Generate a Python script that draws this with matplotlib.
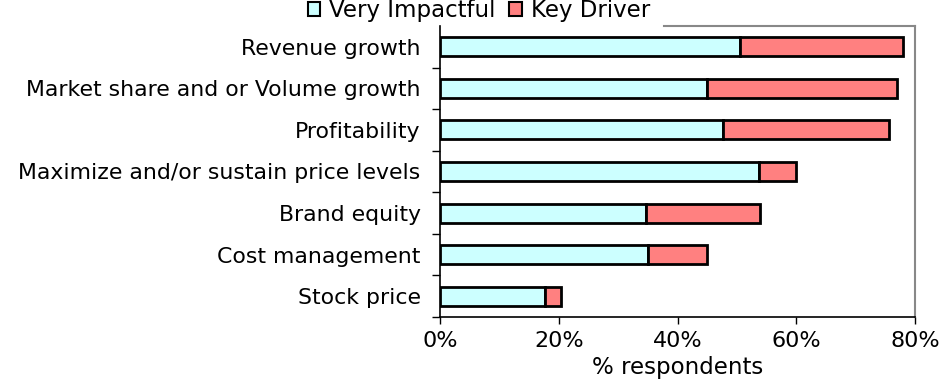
import matplotlib
matplotlib.use("Agg")
import matplotlib.pyplot as plt
import numpy as np
from matplotlib.patches import Patch

categories = ["Revenue growth", "Market share and or Volume growth", "Profitability",
              "Maximize and/or sustain price levels", "Brand equity", "Cost management",
              "Stock price"]
very_impactful = [50.5, 45.0, 47.7, 53.8, 34.7, 35.0, 17.7]
key_driver = [27.4, 31.9, 28.0, 6.1, 19.2, 10.0, 2.6]
xticks = [0, 20, 40, 60, 80]
xticklabels = ["0%", "20%", "40%", "60%", "80%"]

plt.rcParams['font.family'] = ['DejaVu Sans']

fig = plt.figure(figsize=(9.51, 3.82), dpi=100)
ax = fig.add_axes([440/951, 1-317/382, 475/951, 291/382])

n = len(categories)
y = np.arange(n)[::-1]
c1 = "#CCFFFF"
c2 = "#FF8080"
ax.barh(y, very_impactful, height=0.46, color=c1, edgecolor="black", linewidth=2)
ax.barh(y, key_driver, left=very_impactful, height=0.46, color=c2, edgecolor="black", linewidth=2)

ax.set_xlim(0, 80)
ax.set_ylim(-0.5, n - 0.5)
ax.set_yticks(y)
ax.set_yticklabels(categories, fontsize=15.8)
ax.tick_params(axis='y', which='major', length=0, pad=14)
ax.set_yticks(np.arange(n) - 0.5, minor=True)
ax.tick_params(axis='y', which='minor', length=6, width=1, direction='out')
ax.set_xticks(xticks)
ax.set_xticklabels(xticklabels, fontsize=16)
ax.tick_params(axis='x', length=5, width=1, direction='out', pad=5)
ax.set_xlabel("% respondents", fontsize=16.5, labelpad=3.5)

for s in ['left', 'bottom']:
    ax.spines[s].set_color('black')
    ax.spines[s].set_linewidth(1.2)
for s in ['right', 'top']:
    ax.spines[s].set_color('#888888')
    ax.spines[s].set_linewidth(1.5)
ax.spines['top'].set_bounds(37.7, 80)

handles = [Patch(facecolor=c1, edgecolor='black', linewidth=1.5, label='Very Impactful'),
           Patch(facecolor=c2, edgecolor='black', linewidth=1.5, label='Key Driver')]
fig.legend(handles=handles, loc='center', bbox_to_anchor=(479/951, 1-11/382), ncol=2,
           frameon=False, fontsize=16.5, handlelength=0.55, handleheight=0.55,
           handletextpad=0.4, columnspacing=0.6, borderpad=0)

fig.savefig("out.png", dpi=100)
